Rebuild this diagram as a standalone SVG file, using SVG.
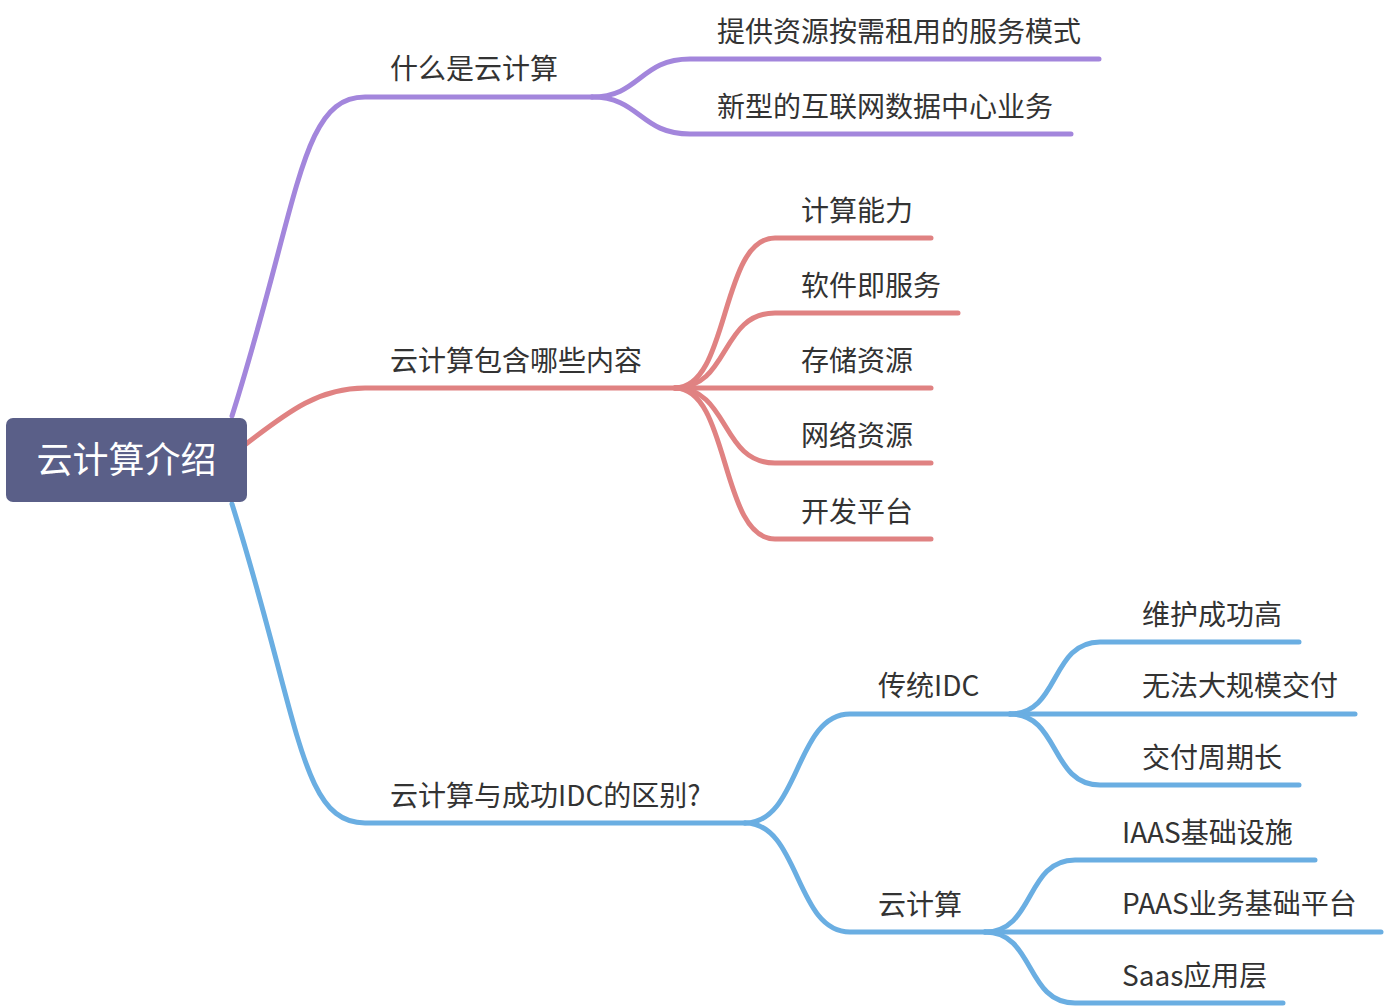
<svg xmlns="http://www.w3.org/2000/svg" width="1386" height="1008" viewBox="0 0 1386 1008">
<style>
.l{fill:none;stroke-width:5;stroke-linecap:round}
.p{stroke:#a386dc}
.r{stroke:#e08282}
.b{stroke:#6aaee2}
.t{font-family:"Noto Sans CJK SC","Noto Sans",sans-serif;font-size:28px;fill:#333}
.root{font-family:"Noto Sans CJK SC","Noto Sans",sans-serif;font-size:36px;fill:#fff}
</style>
<rect width="1386" height="1008" fill="#fff"/>
<g id="connectors">
<path class="l p" d="M232,416 C300,200 300,97 365,97 L592,97"/>
<path class="l p" d="M592,97 C640,97 640,59 690,59 L1099,59"/>
<path class="l p" d="M592,97 C640,97 640,134 690,134 L1071,134"/>
<path class="l r" d="M246,444 C290,410 320,388 365,388 L675,388"/>
<path class="l r" d="M675,388 C730,388 720,238 775,238 L931,238"/>
<path class="l r" d="M675,388 C730,388 720,313 775,313 L958,313"/>
<path class="l r" d="M675,388 L931,388"/>
<path class="l r" d="M675,388 C730,388 720,463 775,463 L931,463"/>
<path class="l r" d="M675,388 C730,388 720,539 775,539 L931,539"/>
<path class="l b" d="M232,504 C300,720 300,823 365,823 L745,823"/>
<path class="l b" d="M745,823 C800,823 795,714 850,714 L1010,714"/>
<path class="l b" d="M745,823 C800,823 795,932 850,932 L985,932"/>
<path class="l b" d="M1010,714 C1060,714 1050,642 1100,642 L1299,642"/>
<path class="l b" d="M1010,714 L1355,714"/>
<path class="l b" d="M1010,714 C1060,714 1050,785 1100,785 L1299,785"/>
<path class="l b" d="M985,932 C1035,932 1025,860 1075,860 L1315,860"/>
<path class="l b" d="M985,932 L1381,932"/>
<path class="l b" d="M985,932 C1035,932 1025,1003 1075,1003 L1283,1003"/>
</g>
<g id="root">
<rect x="6" y="418" width="241" height="84" rx="7" fill="#5a5f88"/>
<text class="root" x="126.5" y="473" text-anchor="middle">云计算介绍</text>
</g>
<g id="n1"><text class="t" x="390" y="79">什么是云计算</text></g>
<g id="n1a"><text class="t" x="717" y="42">提供资源按需租用的服务模式</text></g>
<g id="n1b"><text class="t" x="717" y="117">新型的互联网数据中心业务</text></g>
<g id="n2"><text class="t" x="390" y="371">云计算包含哪些内容</text></g>
<g id="n2a"><text class="t" x="801" y="221">计算能力</text></g>
<g id="n2b"><text class="t" x="801" y="296">软件即服务</text></g>
<g id="n2c"><text class="t" x="801" y="371">存储资源</text></g>
<g id="n2d"><text class="t" x="801" y="446">网络资源</text></g>
<g id="n2e"><text class="t" x="801" y="522">开发平台</text></g>
<g id="n3"><text class="t" x="390" y="806">云计算与成功IDC的区别?</text></g>
<g id="n3a"><text class="t" x="878" y="696">传统IDC</text></g>
<g id="n3b"><text class="t" x="878" y="915">云计算</text></g>
<g id="n3a1"><text class="t" x="1142" y="625">维护成功高</text></g>
<g id="n3a2"><text class="t" x="1142" y="696">无法大规模交付</text></g>
<g id="n3a3"><text class="t" x="1142" y="768">交付周期长</text></g>
<g id="n3b1"><text class="t" x="1122" y="843">IAAS基础设施</text></g>
<g id="n3b2"><text class="t" x="1122" y="914">PAAS业务基础平台</text></g>
<g id="n3b3"><text class="t" x="1122" y="986">Saas应用层</text></g>
</svg>
